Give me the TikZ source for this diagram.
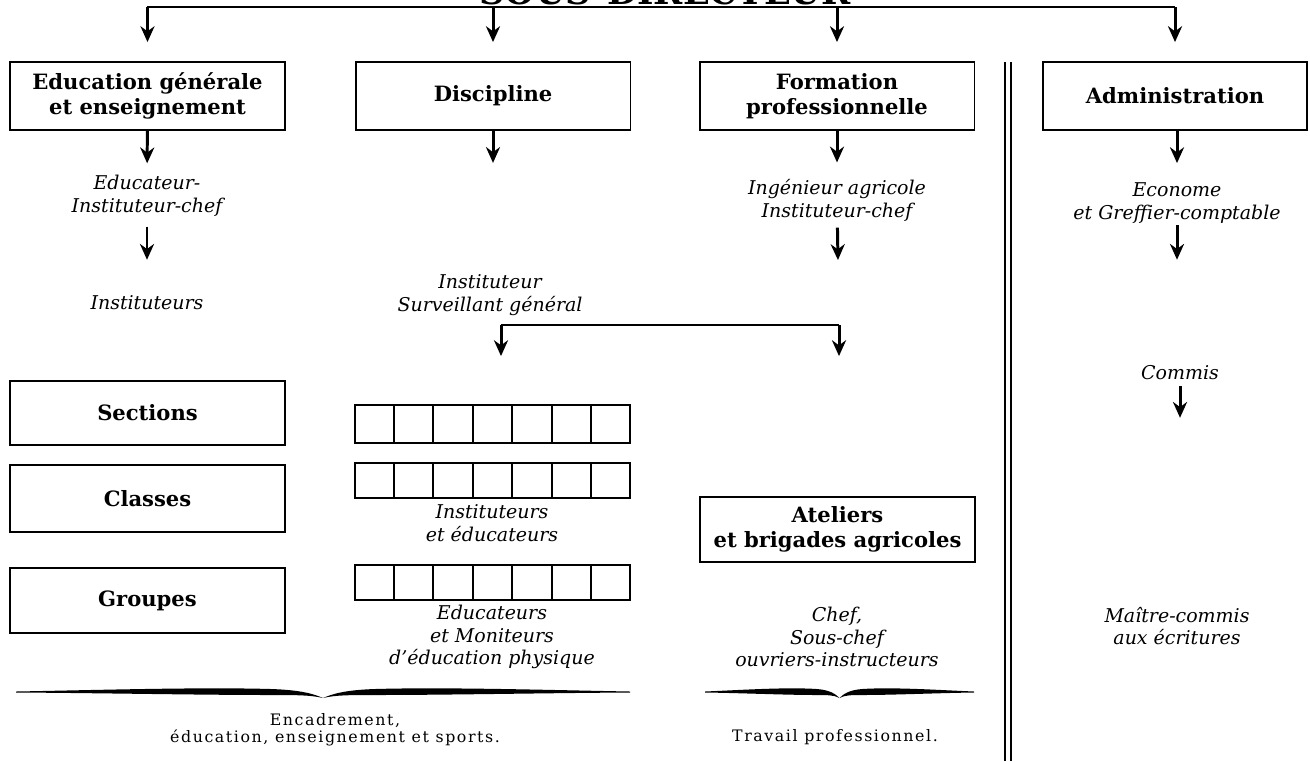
\documentclass[tikz,border=0pt]{standalone}
\usepackage{fontspec}
\setmainfont{DejaVu Serif}
\newfontfamily\notefont[LetterSpace=10]{DejaVu Serif}
\usetikzlibrary{arrows.meta,calc}

% swelled brace, tip pointing down: left x, right x, y
\newcommand{\wavebrace}[3]{%
  \pgfmathsetmacro{\brm}{(#1+#2)/2}\pgfmathsetmacro{\brh}{(#2-#1)/2}%
  \foreach \sg in {-1,1}
    \fill ({\brm+\sg*\brh},{#3+1.5}) .. controls ({\brm+\sg*0.73*\brh},{#3}) and ({\brm+\sg*0.4*\brh},{#3-3})
      .. ({\brm+\sg*0.17*\brh},{#3-1}) .. controls ({\brm+\sg*0.07*\brh},{#3}) and ({\brm+\sg*0.03*\brh},{#3+4})
      .. ({\brm},{#3+8}) .. controls ({\brm+\sg*0.04*\brh},{#3+5}) and ({\brm+\sg*0.09*\brh},{#3+5})
      .. ({\brm+\sg*0.17*\brh},{#3+5}) .. controls ({\brm+\sg*0.4*\brh},{#3+5}) and ({\brm+\sg*0.73*\brh},{#3+3})
      .. ({\brm+\sg*\brh},{#3+2.5}) -- cycle;%
}

\begin{document}
\begin{tikzpicture}[x=0.02cm, y=-0.02cm,
    box/.style={rectangle, draw, line width=1.1pt, align=center, inner sep=2pt,
      minimum width=5.5cm, font=\bfseries\fontsize{12}{14.5}\selectfont},
    role/.style={align=center, inner sep=1pt, font=\itshape\fontsize{10.8}{13}\selectfont},
    note/.style={align=center, inner sep=1pt, font=\notefont\fontsize{9}{9.5}\selectfont},
    arr/.style={-{Stealth[length=9pt,width=8pt]}, line width=1.7pt},
    strip/.style={rectangle, draw, line width=1.1pt, minimum width=5.5cm}]
    \useasboundingbox (0,0) rectangle (1310,761);

    % head of the chart
    \node[font=\bfseries\fontsize{20}{24}\selectfont, anchor=base] (title) at (665,4) {SOUS-DIRECTEUR};
    \coordinate (busL) at (147,7);
    \coordinate (busR) at (1175,7);

    % the four services
    \node[box, minimum height=1.36cm] (edu) at (147.5,96) {Education générale\\et enseignement};
    \node[box, minimum height=1.36cm] (disc) at (493,96) {Discipline};
    \node[box, minimum height=1.36cm] (form) at (837,96) {Formation\\professionnelle};
    \node[box, minimum width=5.28cm, minimum height=1.36cm] (admin) at (1175,96) {Administration};

    % staff
    \node[role] (educhef) at (147,196) {Educateur-\\Instituteur-chef};
    \node[role] (inst) at (147,303) {Instituteurs};
    \node[role] (surv) at (490,295) {Instituteur\\Surveillant général};
    \node[role] (ingchef) at (837,200) {Ingénieur agricole\\Instituteur-chef};
    \node[role] (econ) at (1177,203) {Econome\\et Greffier-comptable};
    \node[role] (commis) at (1180,373) {Commis};
    \node[role] (maitre) at (1177,626) {Maître-commis\\aux écritures};
    \coordinate (splitL) at (501,325);
    \coordinate (splitR) at (839,325);

    % units
    \node[box, minimum height=1.28cm] (sec) at (147.5,413) {Sections};
    \node[box, minimum height=1.34cm] (cls) at (147.5,498.5) {Classes};
    \node[box, minimum height=1.3cm] (grp) at (147.5,600.5) {Groupes};
    \node[strip, minimum height=0.76cm] (s1) at (492.5,424) {};
    \node[strip, minimum height=0.7cm] (s2) at (492.5,480.5) {};
    \node[strip, minimum height=0.7cm] (s3) at (492.5,582.5) {};
    \node[role] (insted) at (492,523) {Instituteurs\\et éducateurs};
    \node[role] (educmon) at (492,637) {Educateurs\\et Moniteurs\\d'éducation physique};
    \node[box, minimum height=1.3cm] (atel) at (837.5,529.5) {Ateliers\\et brigades agricoles};
    \node[role] (chef) at (837,637) {Chef,\\Sous-chef\\ouvriers-instructeurs};

    % footers
    \node[note] (enc) at (335,730) {Encadrement,\\éducation, enseignement et sports.};
    \node[note] (trav) at (835,737) {Travail professionnel.};

    % cells of the strips
    \foreach \s in {s1,s2,s3}
      \foreach \i in {1,...,6}
        \draw[line width=1.1pt] ($(\s.north west)!\i/7!(\s.north east)$) -- ($(\s.south west)!\i/7!(\s.south east)$);

    % connectors
    \draw[line width=1.3pt] (busL) -- (busR);
    \foreach \b in {edu,disc,form,admin}
      \draw[arr, shorten >=0.38cm] (\b.north |- busL) -- (\b.north);
    \draw[arr, shorten >=0.2cm] (edu) -- (educhef);
    \draw[arr, shorten <=0.16cm, shorten >=0.68cm] (educhef) -- (inst);
    \draw[arr, shorten >=2.19cm] (disc) -- (disc.south |- surv.north);
    \draw[arr, shorten >=0.29cm] (form) -- (ingchef);
    \draw[arr, shorten <=0.09cm, shorten >=1.3cm] (ingchef) -- (splitR);
    \draw[arr, shorten >=0.35cm] (admin.south -| econ) -- (econ);
    \draw[arr, shorten >=2.08cm] (econ) -- (econ.south |- commis.north);
    \draw[arr, shorten <=0.08cm, shorten >=3.74cm] (commis) -- (commis.south |- maitre.north);
    \draw[line width=1.3pt] (splitL) -- (splitR);
    \draw[arr, shorten >=0.96cm] (splitL) -- (splitL |- s1.north);
    \draw[arr, shorten >=2.8cm] (splitR) -- (splitR |- atel.north);

    % braces
    \wavebrace{16}{630}{690}
    \wavebrace{705}{974}{690}

    % dividing rule
    \draw[line width=0.8pt] (1005,62) -- (1005,761);
    \draw[line width=0.6pt] (1011,62) -- (1011,761);
\end{tikzpicture}
\end{document}
